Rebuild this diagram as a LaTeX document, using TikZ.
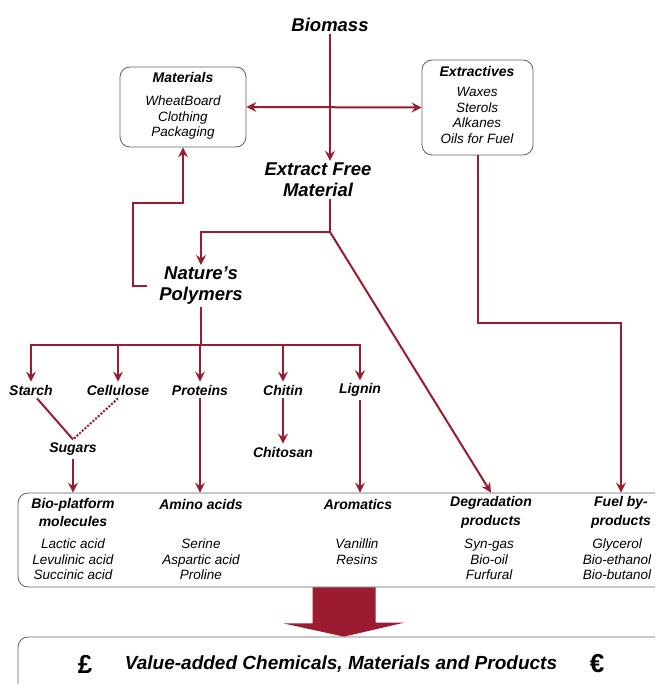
\documentclass[tikz,border=0pt]{standalone}
\usepackage{fontspec}
\setmainfont{Liberation Sans}
\usetikzlibrary{arrows.meta}
\definecolor{brick}{RGB}{155,27,48}
\definecolor{rim}{RGB}{95,95,95}

\begin{document}
\begin{tikzpicture}[x=1pt,y=1pt,
    lbl/.style={font=\bfseries\itshape\fontsize{14}{18.5}\selectfont, align=center, inner sep=3pt},
    big/.style={font=\bfseries\itshape\fontsize{18.5}{21}\selectfont, align=center, inner sep=2pt},
    itm/.style={font=\itshape\fontsize{13.5}{15.5}\selectfont, align=center, inner sep=0pt},
    box/.style={draw=rim, line width=0.8pt, rounded corners=10pt, inner sep=0pt},
    ln/.style={draw=brick, line width=2pt},
    arr/.style={ln, -{Stealth[length=10pt,width=10pt,inset=3.5pt]}},
    dbl/.style={ln, {Stealth[length=10pt,width=10pt,inset=3.5pt]}-{Stealth[length=10pt,width=10pt,inset=3.5pt]}}]
    \useasboundingbox (0,0) rectangle (655,-684);
    \clip (0,0) rectangle (655,-684);
    \node [big] (bio) at (330,-25) {Biomass};
    \node [big] (efm) at (318,-180) {Extract Free\\Material};
    \node [big] (np) at (201,-286) {Nature's\\Polymers};
    \node [box, minimum width=126pt, minimum height=80pt] (mat) at (183,-107) {};
    \node [lbl] (mathd) at (183,-77) {Materials};
    \node [itm] (matls) at (183,-118) {WheatBoard\\Clothing\\Packaging};
    \node [box, minimum width=111pt, minimum height=95pt] (ext) at (477.5,-107.5) {};
    \node [lbl] (exthd) at (477,-71) {Extractives};
    \node [itm] (extls) at (477,-115.5) {Waxes\\Sterols\\Alkanes\\Oils for Fuel};
    \node [lbl] (starch) at (31,-390) {Starch};
    \node [lbl] (cellulose) at (118,-390) {Cellulose};
    \node [lbl] (proteins) at (200,-390) {Proteins};
    \node [lbl] (chitin) at (283,-390) {Chitin};
    \node [lbl] (lignin) at (360,-390) {Lignin};
    \node [lbl] (sugars) at (73,-449) {Sugars};
    \node [lbl] (chitosan) at (283,-452) {Chitosan};
    \node [box, minimum width=652pt, minimum height=94pt] (prod) at (344,-540) {};
    \node [lbl] (biomol) at (73,-512.5) {Bio-platform\\molecules};
    \node [lbl] (amino) at (201,-504) {Amino acids};
    \node [lbl] (arom) at (358,-504) {Aromatics};
    \node [lbl] (deg) at (491,-512.5) {Degradation\\products};
    \node [lbl] (fuel) at (621,-512.5) {Fuel by-\\products};
    \node [itm, anchor=north] (biomolls) at (73,-539) {Lactic acid\\Levulinic acid\\Succinic acid};
    \node [itm, anchor=north] (aminols) at (201,-539) {Serine\\Aspartic acid\\Proline};
    \node [itm, anchor=north] (aromls) at (357,-539) {Vanillin\\Resins};
    \node [itm, anchor=north] (degls) at (489,-539) {Syn-gas\\Bio-oil\\Furfural};
    \node [itm, anchor=north] (fuells) at (617,-539) {Glycerol\\Bio-ethanol\\Bio-butanol};
    \node [box, minimum width=652pt, minimum height=70pt] (final) at (344,-672) {};
    \node [font=\bfseries\itshape\fontsize{19}{22}\selectfont, inner sep=0pt] (va) at (341,-664) {Value-added Chemicals, Materials and Products};
    \node [font=\bfseries\fontsize{26}{28}\selectfont, inner sep=0pt] (pound) at (85,-664) {£};
    \node [font=\bfseries\fontsize{26}{28}\selectfont, inner sep=0pt] (euro) at (597,-664) {€};
    \draw [arr] (bio.south) -- (bio.south |- efm.north);
    \draw [dbl] (mat.east) -- (ext.west);
    \coordinate (split) at (330,-232);
    \draw [ln] (efm.south -| split) -- (split);
    \draw [arr] (split) -| (np.north);
    \draw [arr] (split) -- (deg.north |- prod.north);
    \draw [arr] ([xshift=-10pt]np.west) -| (133,-203) -| (mat.south);
    \draw [arr] (ext.south) -- ++(0,-168) -| (fuel.north |- prod.north);
    \coordinate (bar) at (0,-345);
    \draw [ln] (np.south) -- (np.south |- bar);
    \draw [ln, line cap=rect] (starch |- bar) -- (lignin |- bar);
    \foreach \n in {starch,cellulose,proteins,chitin,lignin}
        \draw [arr] (\n |- bar) -- (\n.north);
    \draw [ln] ([xshift=6pt]starch.south) -- (sugars.north);
    \draw [ln, dash pattern=on 2pt off 1.6pt] (cellulose.south) -- (sugars.north);
    \draw [arr] (sugars.south) -- (sugars.south |- prod.north);
    \draw [arr] (proteins.south) -- (proteins.south |- prod.north);
    \draw [arr] (chitin.south) -- (chitosan.north);
    \draw [arr] (lignin.south) -- (lignin.south |- prod.north);
    \fill [brick] ([xshift=-31.5pt]prod.south) -- ++(0,-36) -- ++(-29,0) -- (final.north) -- ++(60.5,14) -- ++(-29,0) -- ([xshift=31.5pt]prod.south) -- cycle;
\end{tikzpicture}
\end{document}
